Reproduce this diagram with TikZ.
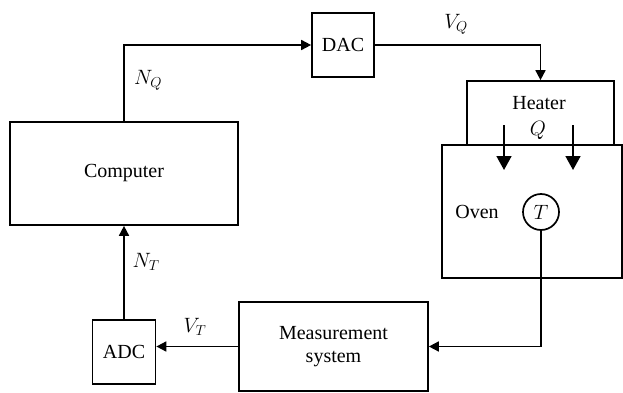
\documentclass[tikz,border=0pt]{standalone}
\usepackage{fontspec}
\setmainfont{Liberation Serif}
\usetikzlibrary{positioning,arrows.meta}

\begin{document}
\begin{tikzpicture}[x=1pt, y=-1pt, line width=1.7pt,
  block/.style={rectangle, draw, inner sep=0pt, align=center, font=\fontsize{20}{23}\selectfont},
  lbl/.style={inner sep=0pt, font=\fontsize{20}{23}\selectfont},
  sig/.style={-{Triangle[length=10pt,width=10pt]}},
  heat/.style={-{Triangle[length=14pt,width=15pt]}}]
  \useasboundingbox (0,0) rectangle (623,393);
  \node[block, minimum width=228pt, minimum height=103pt] (comp) at (124,173.5) {Computer};
  \node[block, minimum width=62pt, minimum height=64pt] (dac) at (343,45) {DAC};
  \node[block, minimum width=180pt, minimum height=133pt] (oven) at (532,211.5) {};
  \node[block, minimum width=147pt, minimum height=64pt] (heater) at (540.5,113) {};
  \node[lbl] (heatertxt) at (539,103) {Heater};
  \node[lbl] (q) at (538,130) {$Q$};
  \node[lbl] (oventxt) at (477,212) {Oven};
  \node[circle, draw, inner sep=0pt, minimum size=36pt, font=\fontsize{20}{23}\selectfont] (temp) at (541,212) {$T$};
  \node[block, minimum width=189pt, minimum height=89pt] (meas) at (333.5,346.5) {Measurement\\system};
  \node[block, minimum width=63pt, minimum height=64pt] (adc) at (124,352) {ADC};
  \coordinate (h1) at (504,125);
  \coordinate (o1) at (504,170);
  \coordinate (h2) at (573,125);
  \coordinate (o2) at (573,170);
  \draw[sig] (comp.north) |- (dac.west);
  \draw[sig] (dac.east) -| (heater.north);
  \draw[heat] (h1) -- (o1);
  \draw[heat] (h2) -- (o2);
  \draw[sig] (temp.south) |- (meas.east);
  \draw[sig] (meas.west) -- (meas.west -| adc.east);
  \draw[sig] (adc.north) -- (adc.north |- comp.south);
  \node[lbl] (nq) at (148,80) {$N_Q$};
  \node[lbl] (vq) at (456,24) {$V_Q$};
  \node[lbl] (nt) at (146,262) {$N_T$};
  \node[lbl] (vt) at (195,327) {$V_T$};
\end{tikzpicture}
\end{document}
